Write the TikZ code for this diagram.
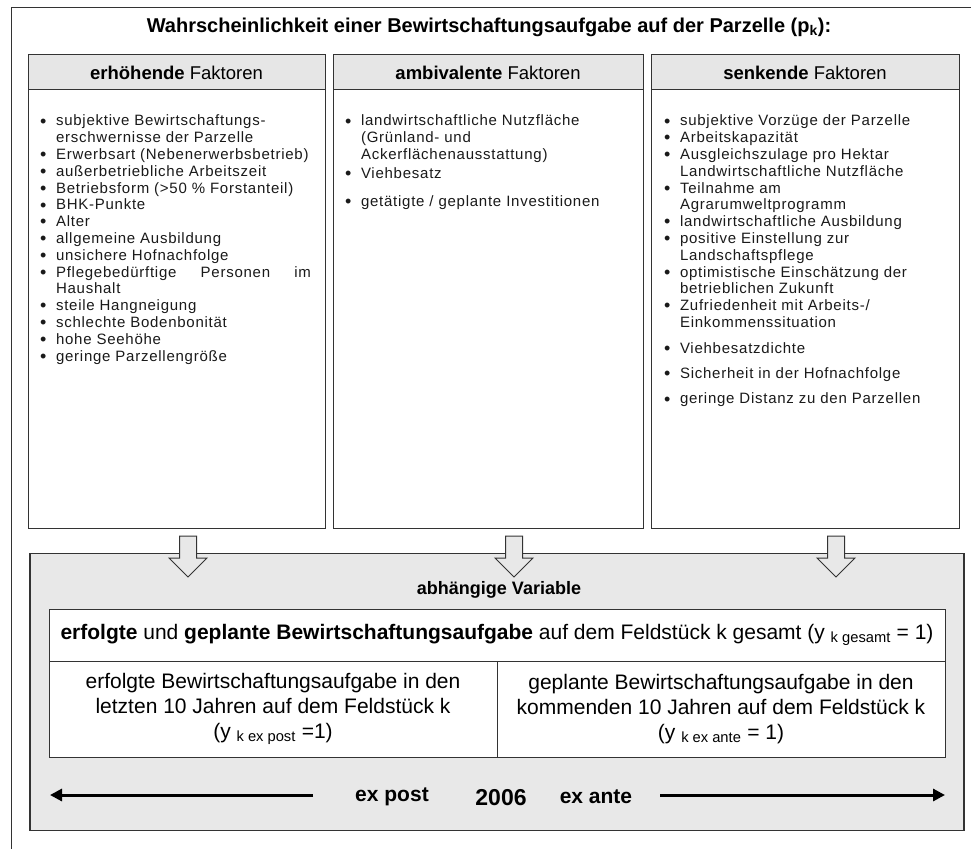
\documentclass[tikz,border=0pt]{standalone}
\usepackage{fontspec}
\setmainfont{Liberation Sans}
\newfontfamily\listfont[LetterSpace=5]{Liberation Sans}
\usetikzlibrary{arrows.meta,calc}
\definecolor{hdrgray}{HTML}{E6E6E6}
\definecolor{boxgray}{HTML}{E8E8E8}
\definecolor{edgegray}{HTML}{333333}
\definecolor{txtgray}{HTML}{1A1A1A}
\newcommand{\fsz}[2]{\fontsize{#1}{#2}\selectfont}
\newcommand{\bitem}[1]{\makebox[16pt][l]{\smash{\raisebox{-1.2pt}{\fontsize{18}{18}\selectfont\textbullet}}}#1}
\newcommand{\citem}[1]{\hspace*{16pt}#1}
\begin{document}
\begin{tikzpicture}[x=1pt,y=-1pt,
  every node/.style={inner sep=0pt, outer sep=0pt},
  colbox/.style={draw=edgegray, line width=1pt, fill=white, minimum height=473pt},
  hdrbox/.style={draw=edgegray, line width=1pt, fill=hdrgray, minimum height=35pt, font=\fsz{18.5}{22}},
  listtext/.style={anchor=north west, align=left, text=txtgray, font=\listfont\fsz{15}{16.8}},
  cellbox/.style={draw=edgegray, line width=1pt, fill=white, align=center, font=\fsz{21}{25}},
  blockarrow/.style={draw=edgegray, line width=1pt, fill=boxgray, line join=miter},
  timeline/.style={line width=3pt, -{Triangle[length=12pt,width=12pt]}},
  timelabel/.style={font=\bfseries\fsz{21}{25}}
]
\useasboundingbox (0,0) rectangle (971,848);
\clip (0,0) rectangle (971,848);
% outer frame (runs past the right and bottom edges)
\draw[draw=edgegray, line width=1pt] (11,8) rectangle (1000,900);

% title
\node[font=\bfseries\fsz{20}{24}] (title) at (489,27)
  {Wahrscheinlichkeit einer Bewirtschaftungsaufgabe auf der Parzelle (p\textsubscript{k}):};

% columns
\node[colbox, minimum width=297pt] (colL) at (176.5,291.5) {};
\node[colbox, minimum width=310pt] (colM) at (488,291.5) {};
\node[colbox, minimum width=308pt] (colR) at (805,291.5) {};

\node[hdrbox, minimum width=297pt] (hdrL) at (176.5,72.5) {\textbf{erhöhende} Faktoren};
\node[hdrbox, minimum width=310pt] (hdrM) at (488,72.5) {\textbf{ambivalente} Faktoren};
\node[hdrbox, minimum width=308pt] (hdrR) at (805,72.5) {\textbf{senkende} Faktoren};

% lists
\node[listtext] (listL) at (40,115) {%
\bitem{subjektive Bewirtschaftungs-}\\
\citem{erschwernisse der Parzelle}\\
\bitem{Erwerbsart (Nebenerwerbsbetrieb)}\\
\bitem{außerbetriebliche Arbeitszeit}\\
\bitem{Betriebsform (>50 \% Forstanteil)}\\
\bitem{BHK-Punkte}\\
\bitem{Alter}\\
\bitem{allgemeine Ausbildung}\\
\bitem{unsichere Hofnachfolge}\\
\bitem{\makebox[255pt][s]{Pflegebedürftige Personen im}}\\
\citem{Haushalt}\\
\bitem{steile Hangneigung}\\
\bitem{schlechte Bodenbonität}\\
\bitem{hohe Seehöhe}\\
\bitem{geringe Parzellengröße}};

\node[listtext] (listM) at (345,115) {%
\bitem{landwirtschaftliche Nutzfläche}\\
\citem{(Grünland- und}\\
\citem{Ackerflächenausstattung)}\\[2pt]
\bitem{Viehbesatz}\\[11pt]
\bitem{getätigte / geplante Investitionen}};

\node[listtext] (listR) at (664,115) {%
\bitem{subjektive Vorzüge der Parzelle}\\
\bitem{Arbeitskapazität}\\
\bitem{Ausgleichszulage pro Hektar}\\
\citem{Landwirtschaftliche Nutzfläche}\\
\bitem{Teilnahme am}\\
\citem{Agrarumweltprogramm}\\
\bitem{landwirtschaftliche Ausbildung}\\
\bitem{positive Einstellung zur}\\
\citem{Landschaftspflege}\\
\bitem{optimistische Einschätzung der}\\
\citem{betrieblichen Zukunft}\\
\bitem{Zufriedenheit mit Arbeits-/}\\
\citem{Einkommenssituation}\\[9pt]
\bitem{Viehbesatzdichte}\\[8pt]
\bitem{Sicherheit in der Hofnachfolge}\\[9pt]
\bitem{geringe Distanz zu den Parzellen}};

% dependent variable box
\node[draw=edgegray, line width=1.3pt, fill=boxgray, minimum width=934pt, minimum height=277pt] (depbox) at (497,692) {};

% block arrows from the factor columns into the box
\foreach \cx in {188,514,836}{
  \draw[blockarrow] (\cx-8.5,536) -- (\cx+8.5,536) -- (\cx+8.5,558) -- (\cx+19,558)
    -- (\cx,577) -- (\cx-19,558) -- (\cx-8.5,558) -- cycle;
}

\node[font=\bfseries\fsz{18}{21}] (deplabel) at (499,590) {abhängige Variable};

\node[cellbox, minimum width=896pt, minimum height=52pt] (rowall) at (497,635)
  {\textbf{erfolgte} und \textbf{geplante Bewirtschaftungsaufgabe} auf dem Feldstück k gesamt (y \textsubscript{k gesamt} = 1)};
\node[cellbox, minimum width=448pt, minimum height=96pt] (cellpost) at (273,709)
  {erfolgte Bewirtschaftungsaufgabe in den\\letzten 10 Jahren auf dem Feldstück k\\(y \textsubscript{k ex post} =1)};
\node[cellbox, minimum width=448pt, minimum height=96pt] (cellante) at (721,709)
  {geplante Bewirtschaftungsaufgabe in den\\kommenden 10 Jahren auf dem Feldstück k\\(y \textsubscript{k ex ante} = 1)};

% time line
\coordinate (tipL) at (50,795);
\coordinate (startL) at (313,795);
\coordinate (startR) at (660,795);
\coordinate (tipR) at (945,795);
\draw[timeline] (startL) -- (tipL);
\draw[timeline] (startR) -- (tipR);
\node[timelabel] (expost) at (392,797) {ex post};
\node[font=\bfseries\fsz{23}{27}] (year) at (501,798) {2006};
\node[timelabel] (exante) at (596,797) {ex ante};
\end{tikzpicture}
\end{document}
